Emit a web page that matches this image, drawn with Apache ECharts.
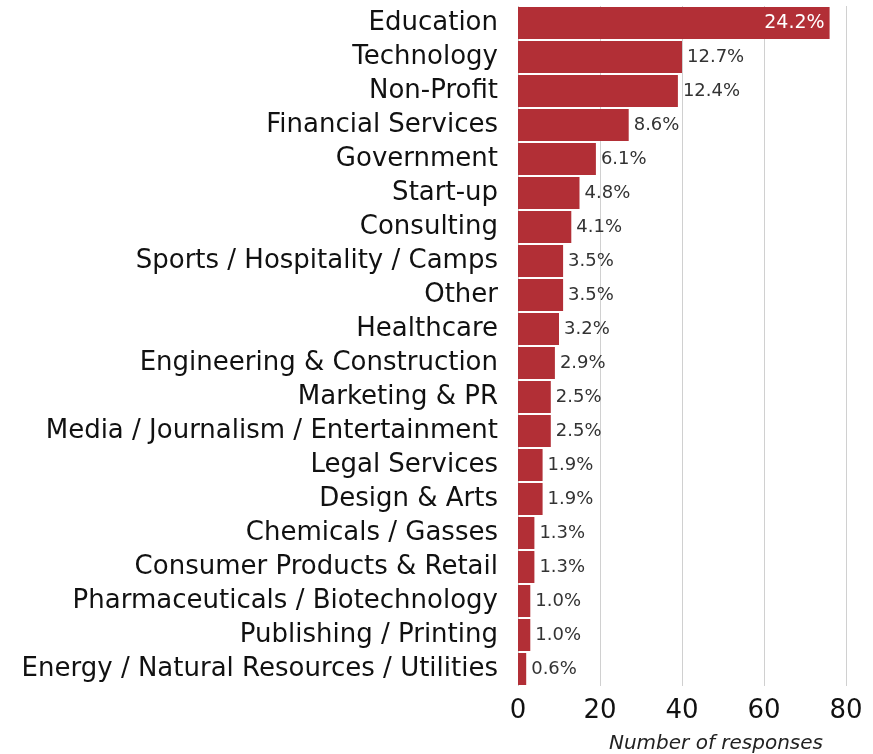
<!DOCTYPE html>
<html>
<head>
<meta charset="utf-8">
<script src="https://cdn.jsdelivr.net/npm/echarts@6/dist/echarts.min.js"></script>
<style>
  html, body { margin: 0; padding: 0; background: #fff; }
  #chart { width: 873px; height: 754px; }
</style>
</head>
<body>
<div id="chart"></div>
<script>
// Industries, top to bottom as in the picture
const industries = [
  'Education', 'Technology', 'Non-Profit', 'Financial Services', 'Government',
  'Start-up', 'Consulting', 'Sports / Hospitality / Camps', 'Other', 'Healthcare',
  'Engineering & Construction', 'Marketing & PR', 'Media / Journalism / Entertainment',
  'Legal Services', 'Design & Arts', 'Chemicals / Gasses', 'Consumer Products & Retail',
  'Pharmaceuticals / Biotechnology', 'Publishing / Printing',
  'Energy / Natural Resources / Utilities'
];
const responses = [76, 40, 39, 27, 19, 15, 13, 11, 11, 10, 9, 8, 8, 6, 6, 4, 4, 3, 3, 2];
const shareLabels = ['24.2%', '12.7%', '12.4%', '8.6%', '6.1%', '4.8%', '4.1%', '3.5%', '3.5%',
  '3.2%', '2.9%', '2.5%', '2.5%', '1.9%', '1.9%', '1.3%', '1.3%', '1.0%', '1.0%', '0.6%'];
const xTicks = [0, 20, 40, 60, 80];

const font = 'DejaVu Sans';
const chart = echarts.init(document.getElementById('chart'));

const seriesData = responses.map((v, i) => {
  const item = { value: v };
  if (i === 0) {
    // the longest bar carries its label inside, in white
    item.label = { position: 'insideRight', color: '#ffffff', fontSize: 19 };
  }
  return item;
});

chart.setOption({
  animation: false,
  grid: { left: 518, right: 27, top: 6, bottom: 68, outerBoundsMode: 'none' },
  xAxis: {
    type: 'value',
    min: xTicks[0],
    max: xTicks[xTicks.length - 1],
    interval: 20,
    name: 'Number of responses',
    nameLocation: 'middle',
    nameGap: 48,
    nameTextStyle: {
      fontFamily: font, fontStyle: 'italic', fontSize: 20, color: '#222',
      padding: [0, 0, 0, 68]
    },
    axisLine: { show: false },
    axisTick: { show: false },
    axisLabel: { fontFamily: font, fontSize: 26, color: '#111', margin: 12 },
    splitLine: { lineStyle: { color: '#d0d0d0', width: 1 } }
  },
  yAxis: {
    type: 'category',
    data: industries,
    inverse: true,
    axisLine: { show: false },
    axisTick: { show: false },
    axisLabel: {
      interval: 0, hideOverlap: false,
      fontFamily: font, fontSize: 26, color: '#111', margin: 20
    }
  },
  series: [{
    type: 'bar',
    data: seriesData,
    barCategoryGap: '6%',
    itemStyle: { color: '#b22f36' },
    label: {
      show: true,
      position: 'right',
      distance: 5,
      fontFamily: font,
      fontSize: 18,
      color: '#333',
      formatter: p => shareLabels[p.dataIndex]
    }
  }]
});
</script>
</body>
</html>
